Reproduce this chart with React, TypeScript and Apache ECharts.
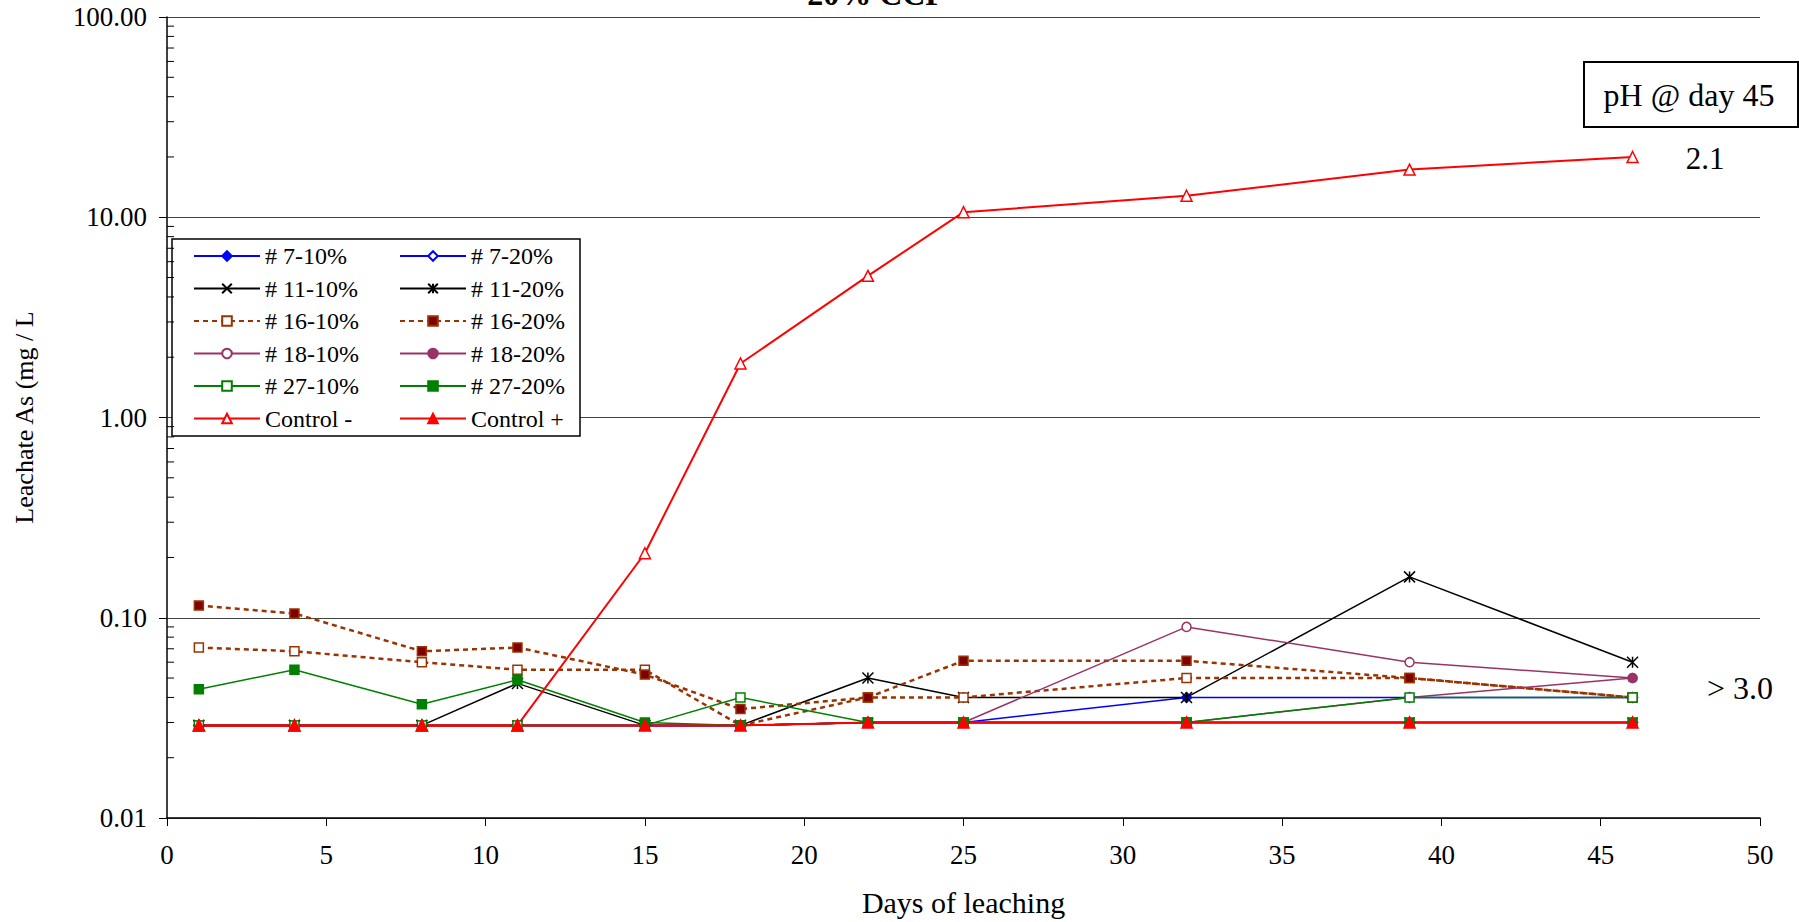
import React, { useEffect, useRef } from 'react';
import * as echarts from 'echarts';

const FONT = 'Liberation Serif';

const days = [1, 4, 8, 11, 15, 18, 22, 25, 32, 39, 46];

const s7_10 = [0.029, 0.029, 0.029, 0.029, 0.029, 0.029, 0.03, 0.03, 0.04, 0.04, 0.04];
const s7_20 = [0.029, 0.029, 0.029, 0.029, 0.029, 0.029, 0.03, 0.03, 0.03, 0.03, 0.03];
const s11_10 = [0.029, 0.029, 0.029, 0.029, 0.029, 0.029, 0.03, 0.03, 0.03, 0.03, 0.03];
const s11_20 = [0.029, 0.029, 0.029, 0.047, 0.029, 0.029, 0.05, 0.04, 0.04, 0.16, 0.06];
const s16_10 = [0.071, 0.068, 0.06, 0.055, 0.055, 0.029, 0.04, 0.04, 0.05, 0.05, 0.04];
const s16_20 = [0.115, 0.105, 0.068, 0.071, 0.052, 0.035, 0.04, 0.061, 0.061, 0.05, 0.04];
const s18_10 = [0.029, 0.029, 0.029, 0.029, 0.029, 0.029, 0.03, 0.03, 0.09, 0.06, 0.05];
const s18_20 = [0.029, 0.029, 0.029, 0.029, 0.029, 0.029, 0.03, 0.03, 0.03, 0.04, 0.05];
const s27_10 = [0.029, 0.029, 0.029, 0.029, 0.029, 0.04, 0.03, 0.03, 0.03, 0.04, 0.04];
const s27_20 = [0.044, 0.055, 0.037, 0.049, 0.03, 0.029, 0.03, 0.03, 0.03, 0.03, 0.03];
const ctrlNeg = [0.029, 0.029, 0.029, 0.029, 0.21, 1.86, 5.1, 10.6, 12.8, 17.3, 20.0];
const ctrlPos = [0.029, 0.029, 0.029, 0.029, 0.029, 0.029, 0.03, 0.03, 0.03, 0.03, 0.03];

const leftNames = ['# 7-10%', '# 11-10%', '# 16-10%', '# 18-10%', '# 27-10%', 'Control -'];
const rightNames = ['# 7-20%', '# 11-20%', '# 16-20%', '# 18-20%', '# 27-20%', 'Control +'];

const xTitle = 'Days of leaching';
const yTitle = 'Leachate As (mg / L';
const chartTitle = '20% CCP';
const phTitle = 'pH @ day 45';
const phLow = '2.1';
const phHigh = '> 3.0';

const X_PATH = 'path://M0,0L10,10M10,0L0,10';
const STAR_PATH = 'path://M0,0L10,10M10,0L0,10M5,0L5,10';

function pairs(vals: number[]) {
  return days.map((d, i) => [d, vals[i]]);
}

function mk(name: string, vals: number[], color: string, symbol: string, size: number, fill: string, width = 1.5, type: any = 'solid') {
  return {
    name,
    type: 'line',
    data: pairs(vals),
    symbol,
    symbolSize: size,
    symbolKeepAspect: true,
    showSymbol: true,
    itemStyle: { color: fill, borderColor: color, borderWidth: 1.5, opacity: 1 },
    lineStyle: { color, width, type },
    emphasis: { disabled: true },
  };
}

export default function App() {
  const ref = useRef<HTMLDivElement>(null);
  useEffect(() => {
    const chart = echarts.init(ref.current!, null, { renderer: 'svg' });
    const legendBase = {
      orient: 'vertical',
      top: 244,
      itemWidth: 66,
      itemHeight: 12,
      itemGap: 8.5,
      padding: 0,
      selectedMode: false,
      textStyle: { fontFamily: FONT, fontSize: 24, color: '#000' },
    };
    const option: any = {
      animation: false,
      backgroundColor: '#fff',
      textStyle: { fontFamily: FONT },
      grid: { left: 167, right: 39, top: 17, bottom: 101, containLabel: false },
      legend: [
        { ...legendBase, left: 193, data: leftNames },
        { ...legendBase, left: 399, data: rightNames },
      ],
      xAxis: {
        type: 'value',
        min: 0,
        max: 50,
        interval: 5,
        name: xTitle,
        nameLocation: 'middle',
        nameGap: 69,
        nameTextStyle: { fontFamily: FONT, fontSize: 30, color: '#000' },
        axisLine: { show: true, onZero: false, lineStyle: { color: '#000', width: 1.5 } },
        axisTick: { show: true, inside: false, length: 8, lineStyle: { color: '#000' } },
        axisLabel: { fontFamily: FONT, fontSize: 27, color: '#000', margin: 23 },
        splitLine: { show: false },
      },
      yAxis: {
        type: 'log',
        logBase: 10,
        min: 0.01,
        max: 100,
        name: yTitle,
        nameLocation: 'middle',
        nameGap: 130,
        nameTextStyle: { fontFamily: FONT, fontSize: 26, color: '#000' },
        axisLine: { show: true, lineStyle: { color: '#000', width: 1.5 } },
        axisTick: { show: true, inside: false, length: 8, lineStyle: { color: '#000' } },
        axisLabel: {
          fontFamily: FONT,
          fontSize: 27,
          color: '#000',
          margin: 20,
          formatter: (v: number) => v.toFixed(2),
        },
        splitLine: { show: true, lineStyle: { color: '#444', width: 1.2 } },
      },
      series: [
        mk('# 7-10%', s7_10, '#0000FF', 'diamond', 10, '#0000FF'),
        mk('# 7-20%', s7_20, '#0000FF', 'diamond', 10, '#FFFFFF'),
        mk('# 11-10%', s11_10, '#000000', X_PATH, 10, '#000000'),
        mk('# 11-20%', s11_20, '#000000', STAR_PATH, 11, '#000000'),
        mk('# 16-10%', s16_10, '#993300', 'rect', 9, '#FFFFFF', 2.5, [5, 4]),
        mk('# 16-20%', s16_20, '#993300', 'rect', 9, '#800000', 2.5, [5, 4]),
        mk('# 18-10%', s18_10, '#993366', 'circle', 9, '#FFFFFF'),
        mk('# 18-20%', s18_20, '#993366', 'circle', 9, '#993366'),
        mk('# 27-10%', s27_10, '#008000', 'rect', 9, '#FFFFFF'),
        mk('# 27-20%', s27_20, '#008000', 'rect', 9, '#008000'),
        mk('Control -', ctrlNeg, '#FF0000', 'triangle', 11, '#FFFFFF', 2),
        mk('Control +', ctrlPos, '#FF0000', 'triangle', 11, '#FF0000', 2),
      ],
    };
    chart.setOption(option);

    const axisX = chart.convertToPixel({ xAxisIndex: 0 }, 0) as number;
    const minor: any[] = [];
    const decades = [0.01, 0.1, 1, 10];
    decades.forEach((dec) => {
      for (let m = 2; m <= 9; m++) {
        const py = chart.convertToPixel({ yAxisIndex: 0 }, dec * m) as number;
        minor.push({
          type: 'line',
          z: 5,
          shape: { x1: axisX, y1: py, x2: axisX + 7, y2: py },
          style: { stroke: '#000', lineWidth: 1 },
        });
      }
    });

    const graphic: any[] = [
      {
        type: 'text',
        z: 10,
        x: 876,
        y: 10,
        style: {
          text: chartTitle,
          fontFamily: FONT,
          fontSize: 32,
          fontWeight: 'bold',
          fill: '#000',
          textAlign: 'center',
          textVerticalAlign: 'bottom',
        },
      },
      {
        type: 'rect',
        z: 3,
        shape: { x: 172, y: 239, width: 408, height: 197 },
        style: { fill: '#fff', stroke: '#000', lineWidth: 1.5 },
      },
      {
        type: 'rect',
        z: 3,
        shape: { x: 1584, y: 62, width: 214, height: 65 },
        style: { fill: '#fff', stroke: '#000', lineWidth: 2 },
      },
      {
        type: 'text',
        z: 10,
        x: 1689,
        y: 95,
        style: { text: phTitle, fontFamily: FONT, fontSize: 32, fill: '#000', textAlign: 'center', textVerticalAlign: 'middle' },
      },
      {
        type: 'text',
        z: 10,
        x: 1705,
        y: 158,
        style: { text: phLow, fontFamily: FONT, fontSize: 31, fill: '#000', textAlign: 'center', textVerticalAlign: 'middle' },
      },
      {
        type: 'text',
        z: 10,
        x: 1740,
        y: 688,
        style: { text: phHigh, fontFamily: FONT, fontSize: 32, fill: '#000', textAlign: 'center', textVerticalAlign: 'middle' },
      },
      ...minor,
    ];
    chart.setOption({ graphic });

    return () => chart.dispose();
  }, []);
  return <div ref={ref} style={{ position: 'fixed', left: 0, top: 0, width: 1799, height: 922 }} />;
}
